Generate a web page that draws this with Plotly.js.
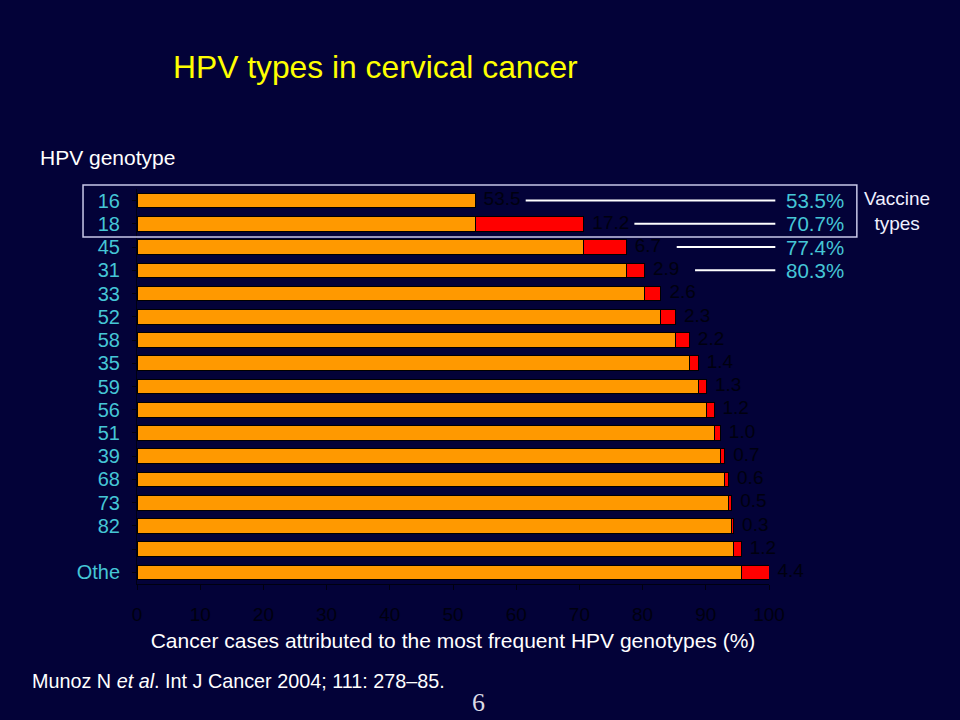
<!DOCTYPE html>
<html>
<head>
<meta charset="utf-8">
<script src="https://cdn.plot.ly/plotly-3.0.1.min.js"></script>
<style>html,body{margin:0;padding:0;background:#030238;}</style>
</head>
<body>
<div id="chart" style="width:960px;height:720px;"></div>
<script>
// HPV genotypes (rows, top to bottom) and share of cervical cancer cases (%)
const genotypes = ['16','18','45','31','33','52','58','35','59','56','51','39','68','73','82','','Othe'];
const percentages = [53.5,17.2,6.7,2.9,2.6,2.3,2.2,1.4,1.3,1.2,1.0,0.7,0.6,0.5,0.3,1.2,4.4];
const xTicks = [0,10,20,30,40,50,60,70,80,90,100];
const vaccineRowCount = 4;

const rows = genotypes.map((_, i) => i);
const cumBefore = [];
const cumTotal = [];
let run = 0;
percentages.forEach(v => { cumBefore.push(run); run += v; cumTotal.push(Math.round(run * 10) / 10); });

// first row: whole bar orange; later rows: orange = previous cumulative, red = own share
const orangeX = percentages.map((v, i) => i === 0 ? v : cumBefore[i]);
const redX = percentages.map((v, i) => i === 0 ? 0 : v);

const FONT = 'Liberation Sans, Arial, sans-serif';
const DARK = '#00000f';
const CYAN = '#45c6d6';

const traces = [
  {type: 'bar', orientation: 'h', x: orangeX, y: rows, marker: {color: '#ff9900', line: {color: '#000000', width: 1}}, hoverinfo: 'skip'},
  {type: 'bar', orientation: 'h', x: redX, y: rows, marker: {color: '#ff0000', line: {color: '#000000', width: 1}}, hoverinfo: 'skip'},
  {type: 'scatter', mode: 'markers+text', x: cumTotal, y: rows,
   text: percentages.map(v => v.toFixed(1)), textposition: 'middle right',
   marker: {size: 12, color: 'rgba(0,0,0,0)'},
   textfont: {family: FONT, size: 19, color: DARK}, cliponaxis: false, hoverinfo: 'skip'}
];

const shapes = [];
const annotations = [];
for (let i = 0; i < vaccineRowCount; i++) {
  shapes.push({type: 'line', xref: 'paper', yref: 'y', x0: (cumTotal[i] + 8) / 100, x1: 1.01, y0: i, y1: i,
               line: {color: '#ffffff', width: 2}});
  annotations.push({xref: 'paper', yref: 'y', x: 1.024, y: i, xanchor: 'left', yanchor: 'middle',
                    text: cumTotal[i].toFixed(1) + '%', showarrow: false, font: {family: FONT, size: 20.5, color: CYAN}});
}
shapes.push({type: 'rect', xref: 'paper', yref: 'paper', x0: -0.0854, x1: 1.139, y0: 0.8785, y1: 1.0101,
             line: {color: '#c8c8e8', width: 1.5}, layer: 'above'});

annotations.push(
  {xref: 'paper', yref: 'paper', x: 1.2025, y: 0.944, xanchor: 'center', yanchor: 'middle',
   text: 'Vaccine<br>types', showarrow: false, font: {family: FONT, size: 19, color: '#f0f0ff'}},
  {xref: 'paper', yref: 'paper', x: -0.1566, y: 1.081, xanchor: 'left', yanchor: 'middle',
   text: 'HPV genotype', showarrow: false, font: {family: FONT, size: 21, color: '#ffffff'}},
  {xref: 'paper', yref: 'paper', x: -0.169, y: -0.2456, xanchor: 'left', yanchor: 'middle',
   text: 'Munoz N <i>et al</i>. Int J Cancer 2004; 111: 278–85.', showarrow: false, font: {family: FONT, size: 19.8, color: '#ffffff'}},
  {xref: 'paper', yref: 'paper', x: 0.5396, y: -0.301, xanchor: 'center', yanchor: 'middle',
   text: '6', showarrow: false, font: {family: 'Liberation Serif, serif', size: 26, color: '#dcdce6'}}
);

const layout = {
  width: 960, height: 720,
  margin: {l: 137, r: 191, t: 189, b: 136, pad: 0},
  paper_bgcolor: '#030238', plot_bgcolor: '#030238',
  barmode: 'stack', bargap: 0.37, showlegend: false,
  font: {family: FONT, color: '#ffffff'},
  title: {text: 'HPV types in cervical cancer', xref: 'container', yref: 'container', x: 0.1802, xanchor: 'left',
          y: 0.907, yanchor: 'middle', font: {family: FONT, size: 31.8, color: '#ffff00'}},
  xaxis: {range: [0, 100], tickvals: xTicks, ticktext: xTicks.map(String), showgrid: false, zeroline: false,
          showline: true, linecolor: '#000010', linewidth: 1, ticks: 'outside', ticklen: 5, tickcolor: '#000010',
          ticklabelstandoff: 8, tickfont: {family: FONT, size: 19, color: DARK},
          title: {text: 'Cancer cases attributed to the most frequent HPV genotypes (%)', standoff: 9,
                  font: {family: FONT, size: 21, color: '#ffffff'}}},
  yaxis: {range: [16.5, -0.5], tickvals: rows, ticktext: genotypes, showgrid: false, zeroline: false,
          showline: true, linecolor: '#000010', linewidth: 1, ticks: 'outside', ticklen: 4, tickcolor: '#000010',
          ticklabelstandoff: 8, tickfont: {family: FONT, size: 20, color: CYAN}},
  shapes: shapes, annotations: annotations
};

Plotly.newPlot('chart', traces, layout, {staticPlot: true});
</script>
</body>
</html>
